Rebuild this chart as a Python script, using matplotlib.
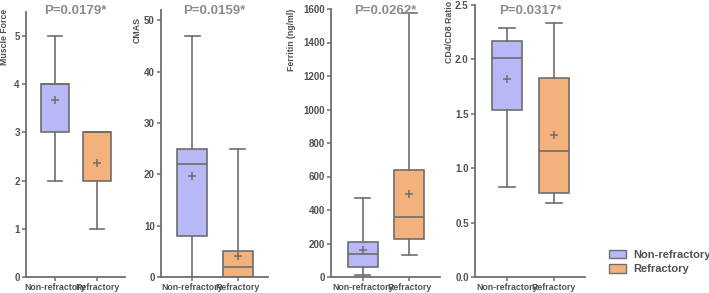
import matplotlib.pyplot as plt
from matplotlib.patches import Patch

# group labels and colours
groups = ['Non-refractory', 'Refractory']
colors = ['#b8b8f6', '#f3b27c']

# per panel: [whislo, q1, median, q3, whishi, mean] for each group
muscle_force = [[2, 3, 4, 4, 5, 3.67], [1, 2, 3, 3, 3, 2.36]]
cmas = [[0, 8, 22, 25, 47, 19.6], [0, 0, 2, 5, 25, 4.1]]
ferritin = [[12, 62, 135, 207, 473, 161], [130, 227, 356, 637, 1574, 494]]
cd4_cd8 = [[0.83, 1.535, 2.01, 2.17, 2.29, 1.82], [0.68, 0.775, 1.16, 1.83, 2.33, 1.305]]

panels = [
    ('Muscle Force', 'P=0.0179*', muscle_force, [0, 1, 2, 3, 4, 5], 5.5),
    ('CMAS', 'P=0.0159*', cmas, [0, 10, 20, 30, 40, 50], 52),
    ('Ferritin (ng/ml)', 'P=0.0262*', ferritin, [0, 200, 400, 600, 800, 1000, 1200, 1400, 1600], 1600),
    ('CD4/CD8 Ratio', 'P=0.0317*', cd4_cd8, [0.0, 0.5, 1.0, 1.5, 2.0, 2.5], 2.5),
]

W, H = 709, 293
# axes boxes in pixels: left, right, top
boxes = [(26, 125, 12), (161, 268, 10), (331, 440, 9), (475, 585, 5)]
ylab_pos = [(5, 37), (137, 30), (291, 40), (449, 32)]
bottom = 277

line_c = '#6e6e6e'
text_c = '#505050'
title_c = '#8c8c8c'

plt.rcParams['font.family'] = ['Liberation Sans', 'DejaVu Sans']
fig = plt.figure(figsize=(W / 100, H / 100), dpi=100)

for (ylabel, title, data, yticks, ytop), (l, r, t), (lx, ly) in zip(panels, boxes, ylab_pos):
    ax = fig.add_axes([l / W, 1 - bottom / H, (r - l) / W, (bottom - t) / H])
    stats = []
    for d in data:
        stats.append(dict(whislo=d[0], q1=d[1], med=d[2], q3=d[3], whishi=d[4], mean=d[5], fliers=[]))
    bp = ax.bxp(stats, positions=[0, 1], widths=0.65, patch_artist=True, showmeans=True,
                boxprops=dict(edgecolor=line_c, linewidth=1.2),
                medianprops=dict(color=line_c, linewidth=1.2),
                whiskerprops=dict(color=line_c, linewidth=1.2),
                capprops=dict(color=line_c, linewidth=1.2),
                meanprops=dict(marker='+', markeredgecolor=line_c, markersize=6, markeredgewidth=1.1))
    for patch, c in zip(bp['boxes'], colors):
        patch.set_facecolor(c)

    ax.set_xlim(-0.68, 1.66)
    ax.set_ylim(0, ytop)
    ax.set_yticks(yticks)
    if ylabel == 'CD4/CD8 Ratio':
        ax.set_yticklabels([f'{v:.1f}' for v in yticks])
    ax.set_xticks([0, 1])
    ax.set_xticklabels(groups)
    for s in ['top', 'right']:
        ax.spines[s].set_visible(False)
    for s in ['left', 'bottom']:
        ax.spines[s].set_color(line_c)
        ax.spines[s].set_linewidth(1.3)
    ax.tick_params(axis='both', colors=line_c, length=3, width=1.1, labelsize=6.3,
                   labelcolor=text_c, pad=1.5)
    ax.tick_params(axis='y', labelsize=7)
    for lab in ax.get_xticklabels() + ax.get_yticklabels():
        lab.set_fontweight('bold')
    fig.text((l + r) / 2 / W, 1 - 11 / H, title, ha='center', va='center',
             color=title_c, fontsize=9.5, fontweight='bold')
    fig.text(lx / W, 1 - ly / H, ylabel, rotation=90, ha='center', va='center',
             fontsize=6.3, fontweight='bold', color=text_c)

handles = [Patch(facecolor=c, edgecolor=line_c, linewidth=1.0) for c in colors]
fig.legend(handles, groups, loc='center left', bbox_to_anchor=(603 / W, 1 - 262 / H),
           frameon=False, handlelength=1.6, handleheight=0.8,
           handletextpad=0.6, labelspacing=0.4, borderpad=0,
           prop=dict(weight='bold', size=8))
for txt in fig.legends[0].get_texts():
    txt.set_color(text_c)

fig.savefig('out.png', dpi=100)
